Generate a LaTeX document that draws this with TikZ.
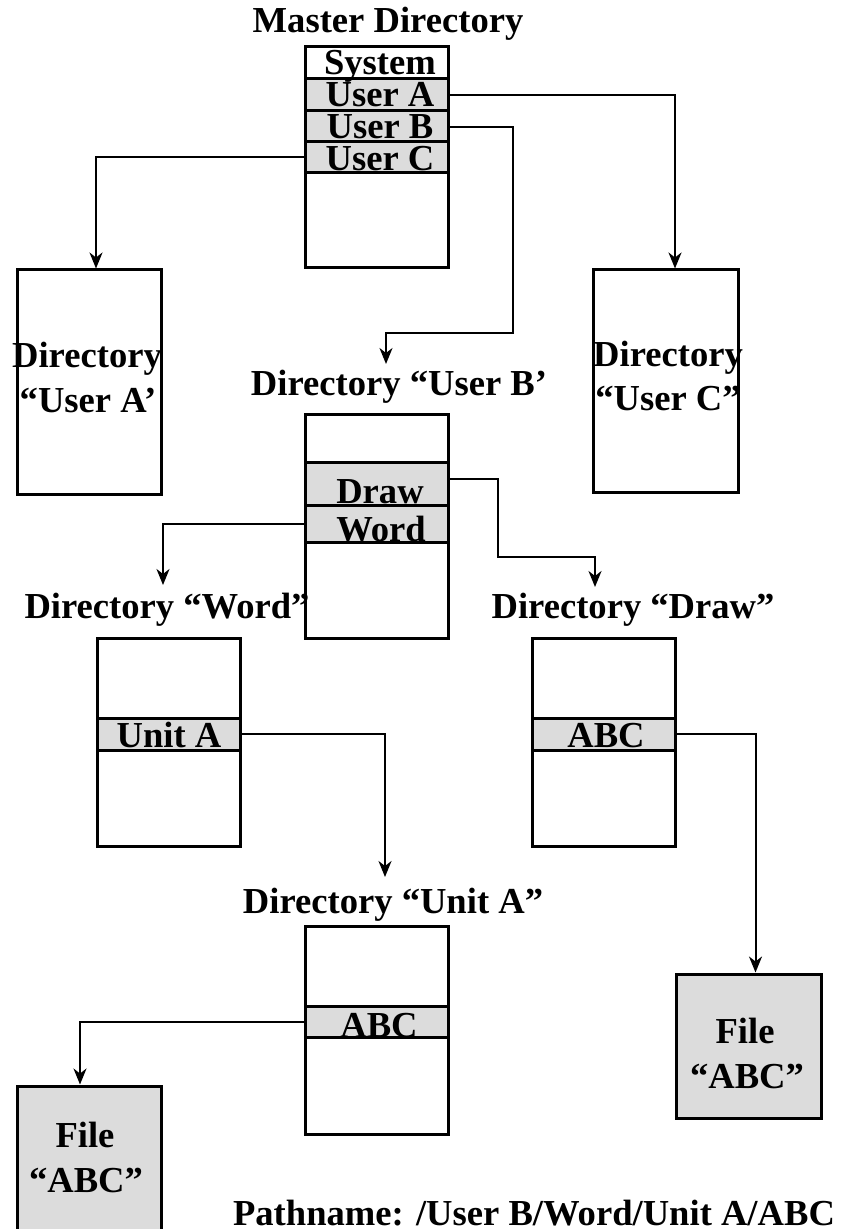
\documentclass[tikz,border=0pt]{standalone}
\usepackage{fontspec}
\setmainfont{Liberation Serif}
\usetikzlibrary{arrows.meta}
\definecolor{rowgray}{RGB}{220,220,220}
\begin{document}
\begin{tikzpicture}[x=0.5pt,y=-0.5pt,
  dirbox/.style={draw, fill=white, line width=1.5pt, inner sep=0pt, rectangle},
  entry/.style={draw, fill=rowgray, line width=1.5pt, inner sep=0pt, rectangle, minimum width=71.5pt},
  filebox/.style={draw, fill=rowgray, line width=1.5pt, inner sep=0pt, rectangle},
  txt/.style={font=\fontsize{18.3}{20}\selectfont\bfseries, anchor=base, inner sep=0pt},
  link/.style={line width=1pt, -{Stealth[length=8pt,width=6.5pt,inset=2.5pt]}}]
\useasboundingbox (0,0) rectangle (842,1229);
\clip (0,0) rectangle (842,1229);

% ---- master directory ----
\node[txt] (tMaster) at (388,33) {Master Directory};
\node[dirbox, minimum width=71.5pt, minimum height=110.5pt] (master) at (376.5,157.5) {};
\node[entry, minimum height=16pt] (ua) at (376.5,95) {};
\node[entry, minimum height=16pt] (ub) at (376.5,127) {};
\node[entry, minimum height=15.5pt] (uc) at (376.5,157.5) {};
\node[txt] (tSys) at (380,75) {System};
\node[txt] (tUA) at (380,107) {User A};
\node[txt] (tUB) at (380,139) {User B};
\node[txt] (tUC) at (380,171) {User C};

% ---- user directories ----
\node[dirbox, minimum width=72pt, minimum height=112pt] (dirA) at (89,382) {};
\node[txt] (tA1) at (87,368) {Directory};
\node[txt] (tA2) at (88,413) {“User A’};

\node[dirbox, minimum width=72.5pt, minimum height=111pt] (dirC) at (665.5,381) {};
\node[txt] (tC1) at (668,367) {Directory};
\node[txt] (tC2) at (668,410) {“User C”};

\node[txt] (tB) at (399,395) {Directory “User B’};
\node[dirbox, minimum width=71.5pt, minimum height=112pt] (dirB) at (376.5,526) {};
\node[entry, minimum height=21.5pt] (drw) at (376.5,483.5) {};
\node[entry, minimum height=18.5pt] (wrd) at (376.5,523.5) {};
\node[txt] (tDraw) at (380,503) {Draw};
\node[txt] (tWord) at (381,541) {Word};

% ---- second level ----
\node[txt] (tW) at (167,618) {Directory “Word”};
\node[dirbox, minimum width=71.5pt, minimum height=104pt] (dirW) at (168.5,742) {};
\node[entry, minimum height=16pt] (unitA) at (168.5,734) {};
\node[txt] (tUnit) at (169,747) {Unit A};

\node[txt] (tD) at (633,618) {Directory “Draw”};
\node[dirbox, minimum width=71.5pt, minimum height=104pt] (dirD) at (603.5,742) {};
\node[entry, minimum height=16pt] (abcD) at (603.5,734) {};
\node[txt] (tAbcD) at (606,747) {ABC};

% ---- third level ----
\node[txt] (tU) at (393,913) {Directory “Unit A”};
\node[dirbox, minimum width=71.5pt, minimum height=104pt] (dirU) at (376.5,1030) {};
\node[entry, minimum height=15.5pt] (abcU) at (376.5,1021.5) {};
\node[txt] (tAbcU) at (379,1037) {ABC};

% ---- files ----
\node[filebox, minimum width=72pt, minimum height=75pt] (fileL) at (89,1161) {};
\node[txt] (tFL1) at (85,1147) {File};
\node[txt] (tFL2) at (86,1192) {“ABC”};

\node[filebox, minimum width=72.5pt, minimum height=72pt] (fileR) at (748.5,1046) {};
\node[txt] (tFR1) at (745,1043) {File};
\node[txt] (tFR2) at (747,1088) {“ABC”};

\node[txt] (tPath) at (534,1225) {Pathname: /User B/Word/Unit A/ABC};

% ---- connectors ----
\coordinate (bBend) at (513,333);
\coordinate (bTip) at (386,364);
\coordinate (dBend) at (498,557);
\coordinate (dTip) at (595,587);
\coordinate (wTip) at (163,585);
\coordinate (uTip) at (385,877);

\draw[link] (ua.east) -| ([xshift=4.75pt]dirC.north);
\draw[link] (ub.east) -| (bBend) -| (bTip);
\draw[link] (uc.west) -| ([xshift=3.5pt]dirA.north);
\draw[link] ([yshift=2.5pt]drw.east) -| (dBend) -| (dTip);
\draw[link] (wrd.west) -| (wTip);
\draw[link] (unitA.east) -| (uTip);
\draw[link] (abcD.east) -| ([xshift=3.5pt]fileR.north);
\draw[link] (abcU.west) -| ([xshift=-4.5pt]fileL.north);
\end{tikzpicture}
\end{document}
